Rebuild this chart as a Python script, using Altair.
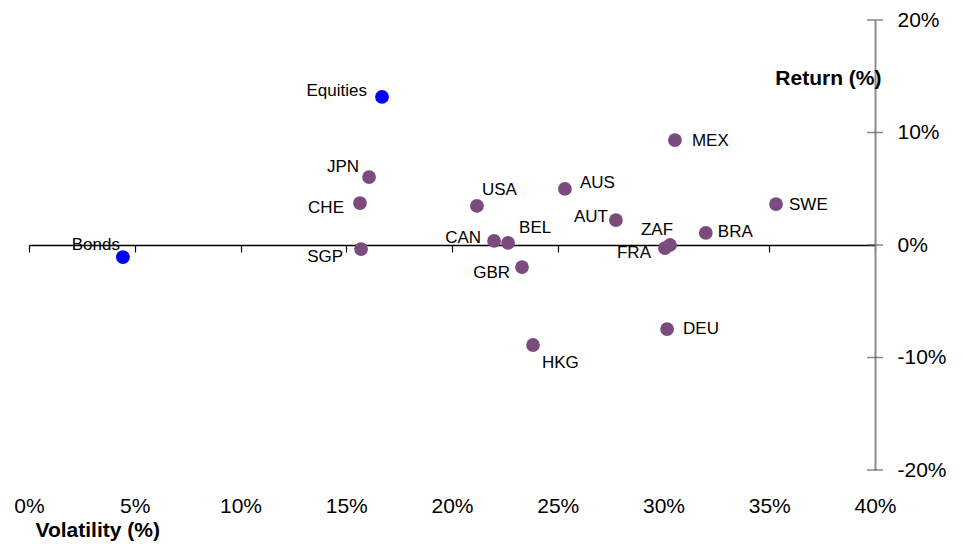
import altair as alt
import pandas as pd

# ---- data ----
names = ["Bonds", "Equities", "JPN", "CHE", "SGP", "USA", "CAN", "BEL", "GBR",
         "AUS", "AUT", "ZAF", "FRA", "BRA", "SWE", "MEX", "DEU", "HKG"]
volatility = [4.44, 16.69, 16.08, 15.65, 15.70, 21.18, 21.99, 22.65, 23.31,
              25.34, 27.75, 30.31, 30.07, 32.00, 35.32, 30.54, 30.17, 23.83]
returns = [-1.07, 13.16, 6.04, 3.73, -0.36, 3.47, 0.36, 0.18, -1.96,
           4.98, 2.22, 0.00, -0.27, 1.07, 3.64, 9.33, -7.47, -8.89]
kind = ["Asset", "Asset"] + ["Country"] * 16

x_ticks = [0, 5, 10, 15, 20, 25, 30, 35, 40]
y_ticks = [-20, -10, 0, 10, 20]

# ---- label placement (style, not data): align, dx, dy ----
label_style = {
    "Bonds": ("right", -3, -12), "Equities": ("right", -15, -6),
    "JPN": ("right", -10, -10), "CHE": ("right", -16, 5),
    "SGP": ("right", -18, 8), "USA": ("left", 5, -16),
    "CAN": ("right", -13, -3), "BEL": ("left", 11, -15),
    "GBR": ("right", -12, 6), "AUS": ("left", 15, -6),
    "AUT": ("right", -8, -3), "ZAF": ("right", 3, -15),
    "FRA": ("right", -14, 5), "BRA": ("left", 12, -1),
    "SWE": ("left", 13, 1), "MEX": ("left", 17, 1),
    "DEU": ("left", 16, 0), "HKG": ("left", 9, 18),
}

df = pd.DataFrame({"name": names, "vol": volatility, "ret": returns, "kind": kind})
yt = pd.DataFrame({"y": y_ticks})

FONT = "Liberation Sans"

xscale = alt.Scale(domain=[0, 40], nice=False, zero=False)
yscale = alt.Scale(domain=[-20, 20], nice=False, zero=False)

base = alt.Chart(df)

x_axis = alt.Axis(
    values=x_ticks, labelExpr="datum.value + '%'", grid=False, labelFlush=False,
    offset=-225, domainColor="black", domainWidth=1.5,
    tickColor="black", tickSize=7, tickWidth=1.2,
    labelPadding=243, labelFont=FONT, labelFontSize=21, labelColor="black",
    title="Volatility (%)", titleFont=FONT, titleFontSize=21, titleFontWeight="bold",
    titleAlign="left", titleX=6, titleY=285, titleBaseline="middle", titleColor="black",
)
y_axis = alt.Axis(
    values=y_ticks, labelExpr="datum.value + '%'", grid=False, orient="right",
    labelFlush=False,
    domainColor="#8c8c8c", domainWidth=2, ticks=False, tickSize=0,
    labelPadding=22, labelFont=FONT, labelFontSize=21, labelColor="black",
    title="Return (%)", titleFont=FONT, titleFontSize=21, titleFontWeight="bold",
    titleAngle=0, titleAlign="right", titleX=6, titleY=58, titleBaseline="middle",
    titleColor="black",
)

points = base.mark_circle(size=190, opacity=1).encode(
    x=alt.X("vol:Q", scale=xscale, axis=x_axis),
    y=alt.Y("ret:Q", scale=yscale, axis=y_axis),
    color=alt.Color("kind:N", scale=alt.Scale(domain=["Asset", "Country"],
                                              range=["#0000ff", "#7b4a7e"]), legend=None),
)

yticks = alt.Chart(yt).mark_tick(orient="horizontal", size=16, thickness=1.5,
                                 color="#555555").encode(
    x=alt.datum(40, scale=xscale),
    y=alt.Y("y:Q", scale=yscale),
)

layers = [points, yticks]
for nm, (al, dx, dy) in label_style.items():
    layers.append(
        base.transform_filter(alt.datum.name == nm).mark_text(
            align=al, baseline="middle", dx=dx, dy=dy, font=FONT, fontSize=17, color="black"
        ).encode(x=alt.X("vol:Q", scale=xscale), y=alt.Y("ret:Q", scale=yscale), text="name:N")
    )

chart = alt.layer(*layers).properties(
    width=846, height=450,
    autosize=alt.AutoSizeParams(type="none"),
    padding={"left": 21, "top": 12, "right": 79, "bottom": 72},
    background="white",
).configure_view(stroke=None)

chart.save("out.html", embed_options={"renderer": "svg", "actions": False})
